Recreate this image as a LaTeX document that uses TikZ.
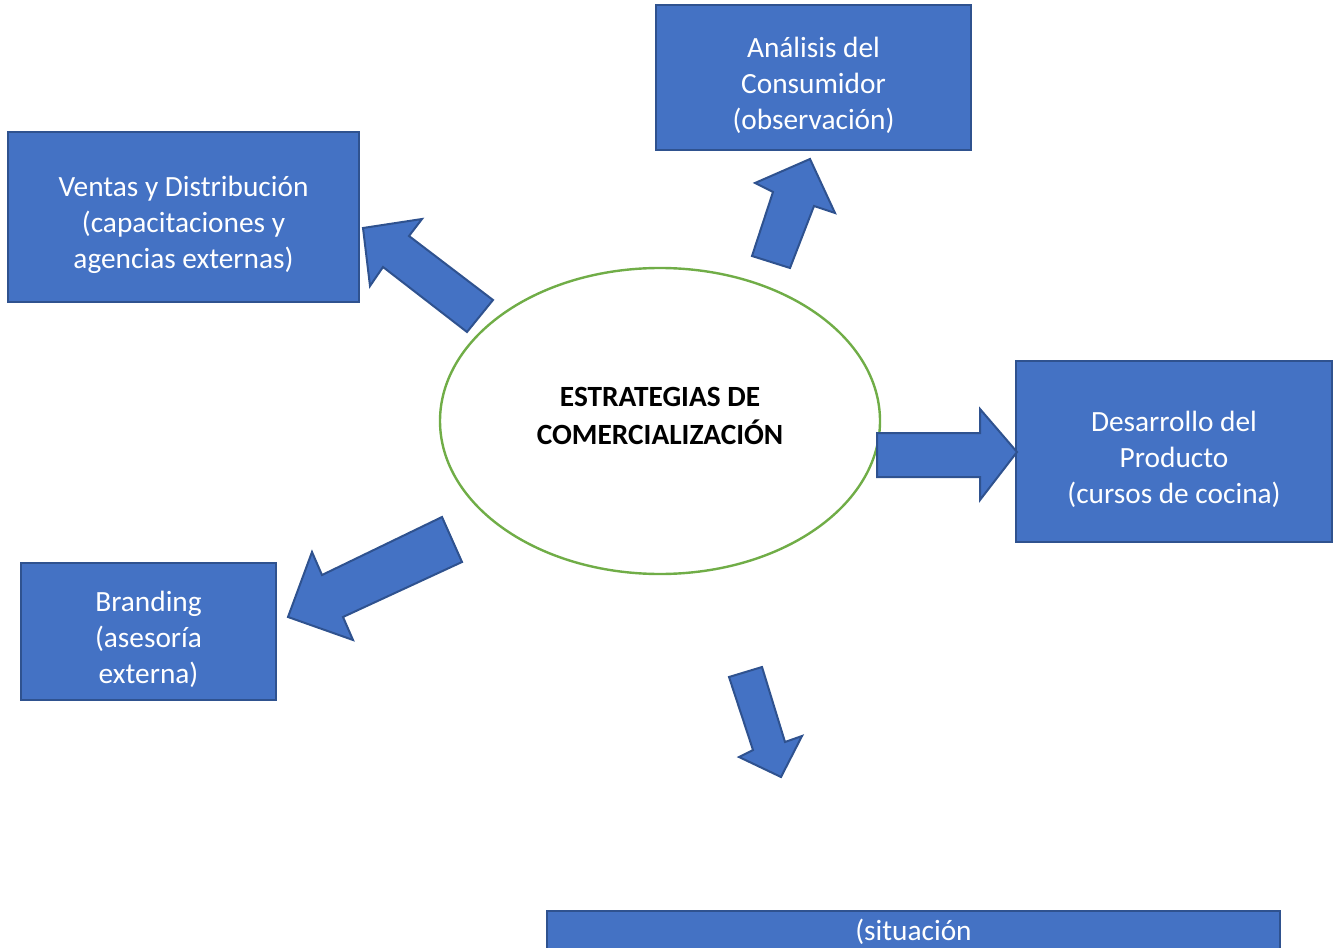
\documentclass[tikz,border=0pt]{standalone}
\usepackage{fontspec}
\setmainfont{Carlito}
\usetikzlibrary{shapes.geometric}
\definecolor{boxblue}{HTML}{4472C4}
\definecolor{boxedge}{HTML}{2F528F}
\definecolor{ringgreen}{HTML}{70AD47}
\tikzset{
  box/.style={rectangle, draw=boxedge, fill=boxblue, line width=1.5pt, inner sep=0pt},
  boxtext/.style={text=white, align=center, inner sep=0pt,
    font=\fontsize{22}{27}\selectfont},
  blockarrow/.style={draw=boxedge, fill=boxblue, line width=1.5pt, line join=miter},
  hub/.style={ellipse, draw=ringgreen, line width=1.8pt, fill=white, inner sep=0pt},
  hubtext/.style={align=center, inner sep=0pt,
    font=\fontsize{22}{28.5}\selectfont\bfseries}
}
\begin{document}
\begin{tikzpicture}[x=0.75pt,y=-0.75pt]
\useasboundingbox (0,0) rectangle (1338,948);

% central ellipse
\node[hub, minimum width=330pt, minimum height=229.5pt] (hub) at (660,421) {};
\node[hubtext] (hubtext) at (660,416) {ESTRATEGIAS DE\\COMERCIALIZACIÓN};

% surrounding boxes
\node[box, minimum width=236.25pt, minimum height=108.75pt] (cons) at (813.5,77.5) {};
\node[boxtext] (constext) at (813.5,85.5) {Análisis del\\Consumidor\\(observación)};
\node[box, minimum width=263.25pt, minimum height=127.5pt] (vent) at (183.5,217) {};
\node[boxtext] (venttext) at (183.5,225) {Ventas y Distribución\\(capacitaciones y\\agencias externas)};
\node[box, minimum width=237pt, minimum height=135.75pt] (prod) at (1174,451.5) {};
\node[boxtext] (prodtext) at (1174,459.5) {Desarrollo del\\Producto\\(cursos de cocina)};
\node[box, minimum width=191.25pt, minimum height=102.75pt] (brand) at (148.5,631.5) {};
\node[boxtext] (brandtext) at (148.5,639.5) {Branding\\(asesoría\\externa)};
\node[box, minimum width=549.75pt, minimum height=45pt, anchor=north] (sit) at (913.5,910) {};
\node[boxtext, anchor=base] (sittext) at (913.5,940) {(situación};

% block arrows
\draw[blockarrow] (877,433) -- (980,433) -- (980,409) -- (1017,452) -- (980,500)
  -- (980,477) -- (877,477) -- cycle;
\draw[blockarrow] (752,256) -- (773,192) -- (755,183) -- (810,159) -- (835,213)
  -- (814,206) -- (790,268) -- cycle;
\draw[blockarrow] (493,300) -- (409,236) -- (422,219) -- (363,228) -- (370,286)
  -- (383,267) -- (467,332) -- cycle;
\draw[blockarrow] (442,517) -- (322,575) -- (312,552) -- (288,617) -- (353,640)
  -- (343,617) -- (462,562) -- cycle;
\draw[blockarrow] (729,677) -- (762,667) -- (785,742) -- (802,736) -- (781,777)
  -- (739,757) -- (753,750) -- cycle;
\end{tikzpicture}
\end{document}
